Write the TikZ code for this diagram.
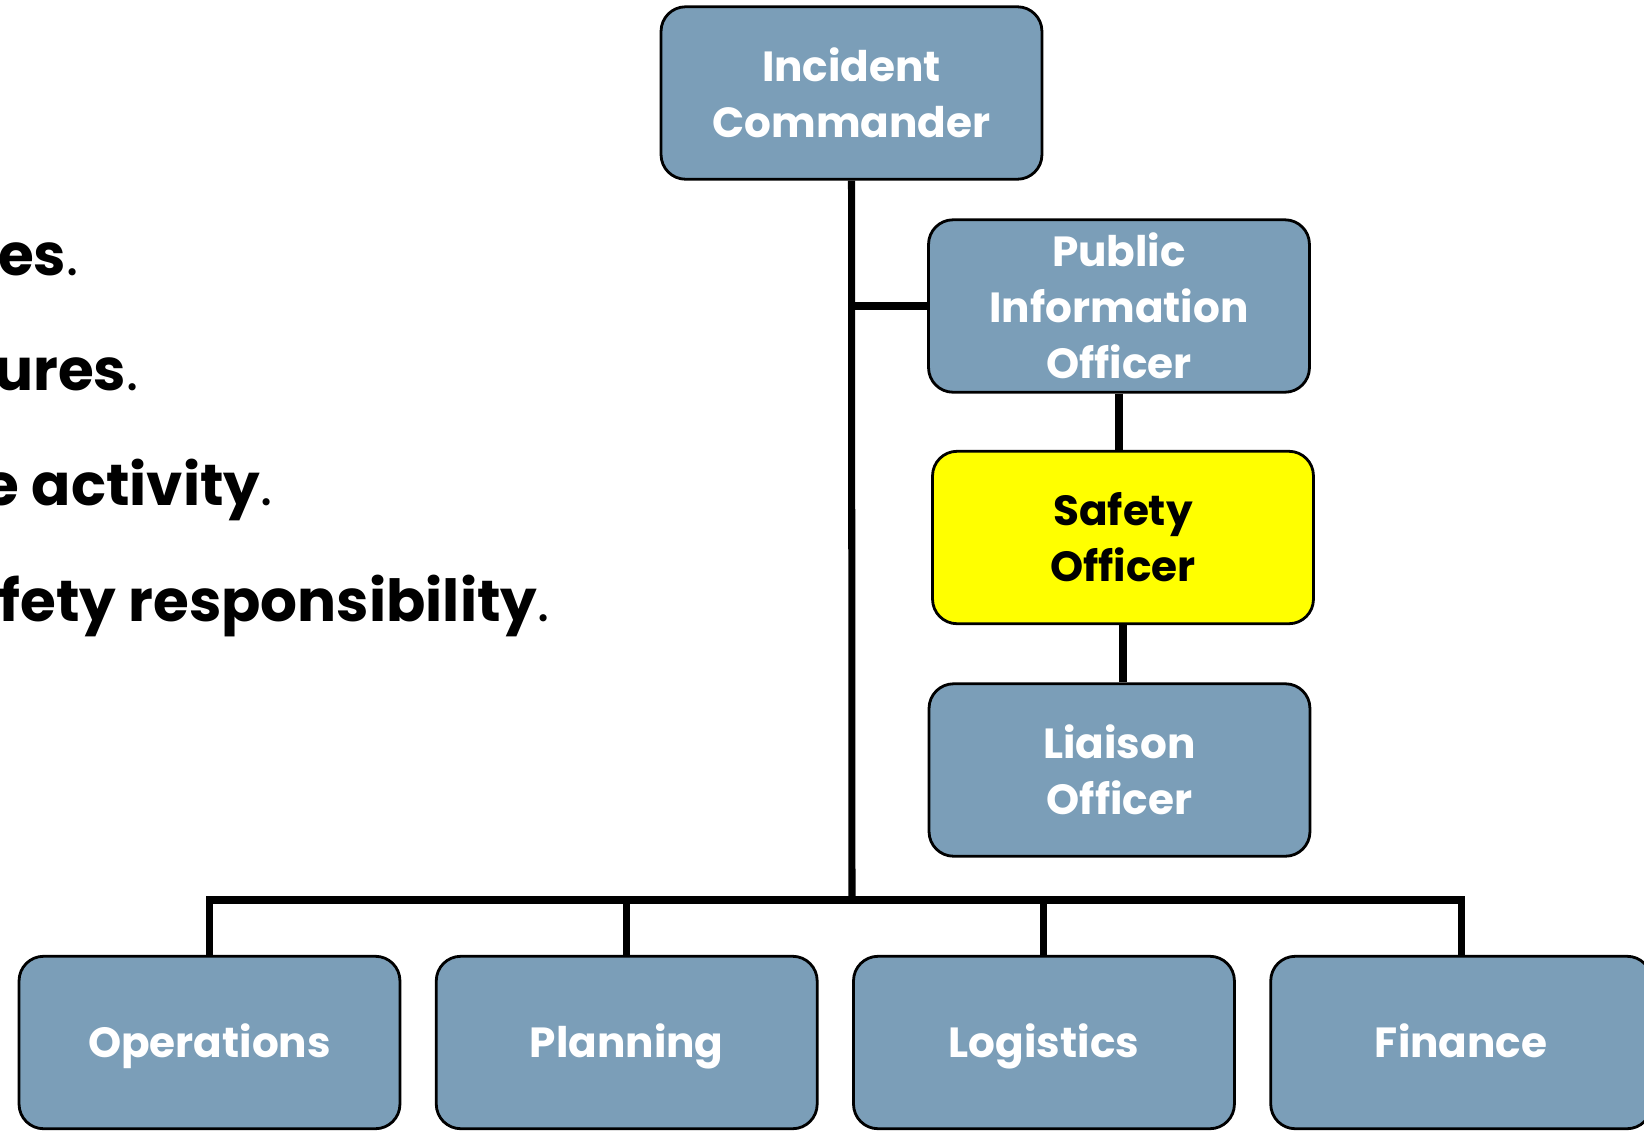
\documentclass[tikz,border=0pt]{standalone}
\usepackage{fontspec}
\setmainfont{Poppins}
\usepackage{tikz}
\usetikzlibrary{positioning}

\definecolor{icsblue}{HTML}{7B9EB8}
\definecolor{safetyyellow}{RGB}{255,255,0}
\newcommand{\postfont}{\fontsize{24}{32}\selectfont\bfseries}
\newcommand{\bulletfont}{\fontsize{33}{40}\selectfont\bfseries}

\begin{document}
\begin{tikzpicture}[x=0.02cm,y=-0.02cm,line width=4pt]
    \tikzstyle{post}=[draw=black,line width=1.6pt,rounded corners=14pt,fill=icsblue,text=white,
        font=\postfont,align=center,minimum width=7.62cm,minimum height=3.45cm,inner sep=0pt]
    \tikzstyle{safety}=[post,fill=safetyyellow,text=black]
    \tikzstyle{section}=[post,text height=17pt,text depth=0pt]
    \tikzstyle{bullet}=[anchor=base east,font=\bulletfont,inner sep=0pt]
    \useasboundingbox (0,0) rectangle (1644,1130);
    \clip (0,0) rectangle (1644,1130);
    % text running in from the left
    \node[bullet] (b1) at (82,275) {ues{\mdseries .}};
    \node[bullet] (b2) at (142,390) {ures{\mdseries .}};
    \node[bullet] (b3) at (276,505) {e activity{\mdseries .}};
    \node[bullet] (b4) at (553,621) {fety responsibility{\mdseries .}};
    % command and staff
    \node[post] (ic) at (851.5,93) {Incident\\Commander};
    \node[post] (pio) at (1119,306) {Public\\Information\\Officer};
    \node[safety] (safe) at (1123,537.5) {Safety\\Officer};
    \node[post] (liaison) at (1119.5,770) {Liaison\\Officer};
    % sections
    \node[section] (ops) at (209.5,1042.5) {Operations};
    \node[section] (plan) [right=0.67cm of ops] {Planning};
    \node[section] (logi) [right=0.67cm of plan] {Logistics};
    \node[section] (fin) [right=0.67cm of logi] {Finance};
    \coordinate (bus) at (852,900);
    \draw (ic.south) -- (bus);
    \draw (pio.west) -- (pio.west -| ic.south);
    \draw (pio.south) -- (safe.north -| pio.south);
    \draw (safe.south) -- (liaison.north -| safe.south);
    \draw (ops.north) |- (bus) -| (fin.north);
    \draw (plan.north) -- (plan.north |- bus);
    \draw (logi.north) -- (logi.north |- bus);
\end{tikzpicture}
\end{document}
